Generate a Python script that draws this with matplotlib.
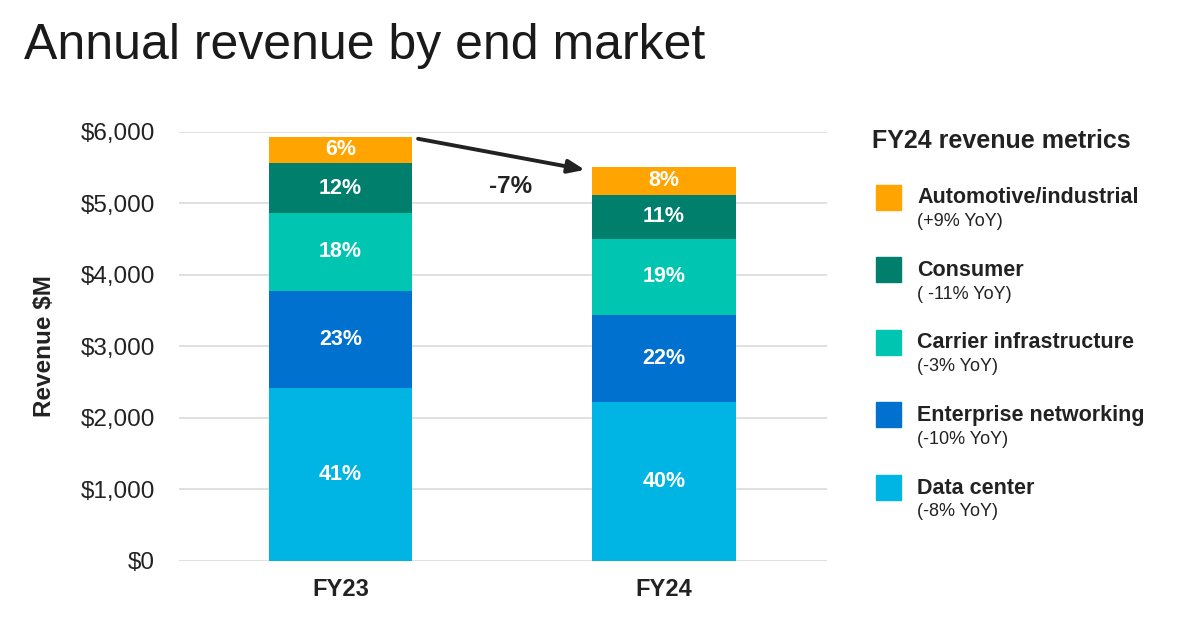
import numpy as np
import matplotlib.pyplot as plt
from matplotlib.patches import Rectangle

plt.rcParams['font.family'] = ['Liberation Sans', 'DejaVu Sans']

years = ["FY23", "FY24"]
segments = ["Data center", "Enterprise networking", "Carrier infrastructure",
            "Consumer", "Automotive/industrial"]
# revenue $M per segment, bottom to top
data_center = [2422, 2222]
enterprise = [1356, 1220]
carrier = [1082, 1054]
consumer = [698, 624]
automotive = [372, 391]
# share labels as printed on the bars
pct_fy23 = ["41%", "23%", "18%", "12%", "6%"]
pct_fy24 = ["40%", "22%", "19%", "11%", "8%"]
yoy = ["(-8% YoY)", "(-10% YoY)", "(-3% YoY)", "( -11% YoY)", "(+9% YoY)"]
total_change = "-7%"

colors = ["#00B4E4", "#0071CE", "#00C6B1", "#007F6C", "#FFA400"]

fig = plt.figure(figsize=(12, 6.38), dpi=100)
ax = fig.add_axes([0.149, 0.1207, 0.54, 0.673])

values = [data_center, enterprise, carrier, consumer, automotive]
labels = [pct_fy23, pct_fy24]
x = np.arange(len(years))
bottom = np.zeros(len(years))
for i, vals in enumerate(values):
    vals = np.array(vals, dtype=float)
    ax.bar(x, vals, bottom=bottom, width=0.445, color=colors[i], zorder=3)
    for j in range(len(years)):
        ax.text(x[j], bottom[j] + vals[j] / 2, labels[j][i], ha='center', va='center',
                color='white', fontsize=15.5, fontweight='bold', zorder=4)
    bottom += vals

totals = bottom
# arrow between totals
ax.annotate("", xy=(0.756, totals[1] - 45), xytext=(0.24, totals[0] - 30),
            arrowprops=dict(arrowstyle='-|>,head_length=1.0,head_width=0.4',
                            color='#222222', lw=2.8, shrinkA=0, shrinkB=0), zorder=5)
ax.text(0.525, 5227, total_change, ha='center', va='center', fontsize=17.5,
        fontweight='bold', color='#222222')

ax.set_xlim(-0.5, 1.504)
ax.set_ylim(0, 6000)
ax.set_yticks(np.arange(0, 6001, 1000))
ax.set_yticklabels([f"${v:,.0f}" for v in np.arange(0, 6001, 1000)])
ax.set_xticks(x)
ax.set_xticklabels(years, fontweight='bold')
ax.tick_params(axis='y', length=0, labelsize=17.5, pad=17, labelcolor='#222222')
ax.tick_params(axis='x', length=0, labelsize=17, pad=12, labelcolor='#222222')
ax.grid(axis='y', color='#DDDDDD', linewidth=1.3, zorder=0)
for s in ax.spines.values():
    s.set_visible(False)
ax.set_ylabel("Revenue $M", fontsize=17.5, fontweight='bold', color='#222222', labelpad=18)

fig.text(0.02, 0.928, "Annual revenue by end market", fontsize=36, color='#1a1a1a',
         ha='left', va='center')

# side legend
fig.text(0.7265, 0.779, "FY24 revenue metrics", fontsize=18, fontweight='bold',
         color='#222222', va='center')
leg_y = [198, 270, 343, 415, 488]
for k in range(len(segments) - 1, -1, -1):
    yc = leg_y[len(segments) - 1 - k]
    fig.patches.append(Rectangle((876 / 1200, 1 - (yc + 12) / 638), 25 / 1200, 25 / 638,
                                 transform=fig.transFigure, color=colors[k]))
    fig.text(917 / 1200, 1 - yc / 638, segments[k], fontsize=15.5, fontweight='bold',
             color='#222222', va='center')
    fig.text(917 / 1200, 1 - (yc + 24) / 638, yoy[k], fontsize=13,
             color='#222222', va='center')

fig.savefig("out.png", dpi=100, facecolor='white')
